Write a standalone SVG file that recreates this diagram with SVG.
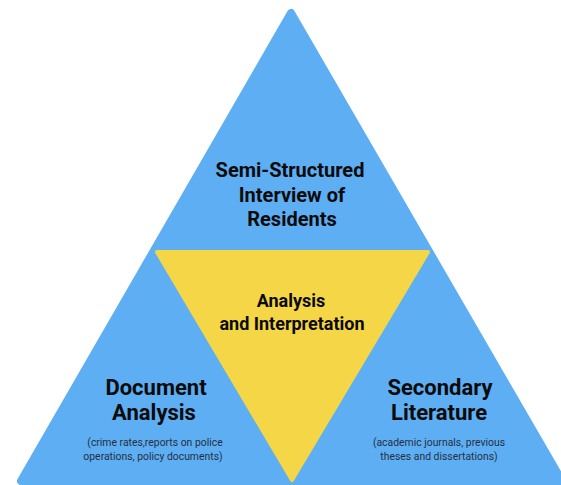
<svg xmlns="http://www.w3.org/2000/svg" width="561" height="485" viewBox="0 0 561 485">
<style>
.big{font-family:Roboto,"Liberation Sans",sans-serif;font-weight:700;fill:#0b0b0b;text-anchor:middle}
.small{font-family:Roboto,"Liberation Sans",sans-serif;font-size:10.4px;fill:#25303f;text-anchor:middle}
</style>
<rect width="561" height="485" fill="#ffffff"/>
<g id="outer-triangle">
<polygon points="291,13 21,481 562,481" fill="#5eaef3" stroke="#5eaef3" stroke-width="8" stroke-linejoin="round"/>
</g>
<g id="inner-triangle">
<polygon points="157,252 428,252 292,480" fill="#f5d647" stroke="#f5d647" stroke-width="4" stroke-linejoin="round"/>
</g>
<g id="node-top">
<text class="big" font-size="20" x="290" y="177">Semi-Structured</text>
<text class="big" font-size="20" x="292" y="202">Interview of</text>
<text class="big" font-size="20" x="292" y="226">Residents</text>
</g>
<g id="node-center">
<text class="big" font-size="18" x="291" y="307">Analysis</text>
<text class="big" font-size="18" x="292" y="330">and Interpretation</text>
</g>
<g id="node-left">
<text class="big" font-size="22" x="156" y="395">Document</text>
<text class="big" font-size="22" x="154" y="420">Analysis</text>
<text class="small" x="155" y="446">(crime rates,reports on police</text>
<text class="small" x="153" y="460">operations, policy documents)</text>
</g>
<g id="node-right">
<text class="big" font-size="22" x="440" y="395">Secondary</text>
<text class="big" font-size="22" x="439" y="420">Literature</text>
<text class="small" x="439" y="446">(academic journals, previous</text>
<text class="small" x="439" y="460">theses and dissertations)</text>
</g>
<g id="connectors"></g>
</svg>
